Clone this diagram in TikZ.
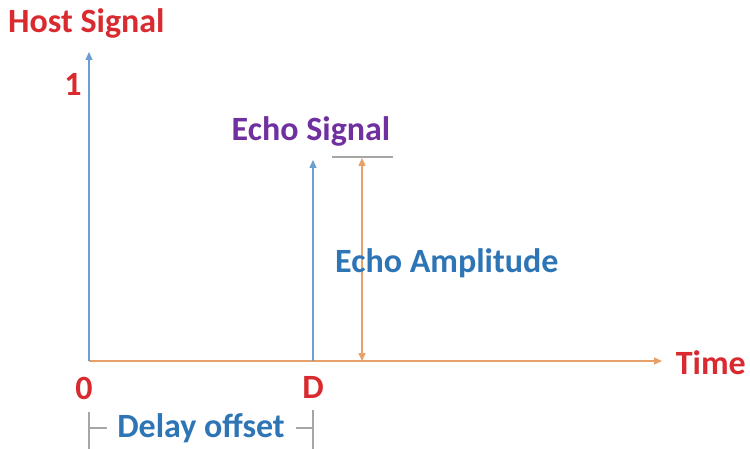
\documentclass[tikz,border=0pt]{standalone}
\usepackage{fontspec}
\setmainfont{Carlito}
\usetikzlibrary{arrows.meta}
\definecolor{cred}{HTML}{D92B2F}
\definecolor{cpurple}{HTML}{7030A0}
\definecolor{cblue}{HTML}{2E75B6}
\definecolor{axblue}{HTML}{6A9FD0}
\definecolor{corange}{HTML}{E8A06A}
\begin{document}
\begin{tikzpicture}[x=1pt,y=-1pt,
  lbl/.style={inner sep=0pt,font=\fontsize{34}{38}\selectfont\bfseries},
  tipA/.style={-{Triangle[length=8pt,width=7pt]}},
  tipB/.style={{Triangle[length=8pt,width=7pt]}-{Triangle[length=8pt,width=7pt]}},
  ln/.style={line width=1.3pt}]
\useasboundingbox (0,0) rectangle (750,449);
\fill[white] (0,0) rectangle (750,449);
% coordinates
\coordinate (O) at (89,361);
\coordinate (Ytop) at (89,52);
\coordinate (Xend) at (662,361);
\coordinate (Dbase) at (313,361);
\coordinate (Dtop) at (313,160);
\coordinate (Abot) at (362,361);
\coordinate (Atop) at (362,158);
\coordinate (Tl) at (332,157);
\coordinate (Tr) at (393,157);
% axes
\draw[ln,corange,tipA] (O) -- (Xend);
\draw[ln,axblue,tipA] (O) -- (Ytop);
\draw[ln,axblue,tipA] (Dbase) -- (Dtop);
\draw[ln,corange,tipB] (Atop) -- (Abot);
\draw[ln,gray!70] (Tl) -- (Tr);
% labels
\node[lbl,cred,anchor=west] (host) at (8,23) {Host Signal};
\node[lbl,cred] (one) at (73,84) {1};
\node[lbl,cpurple] (echo) at (311,131) {Echo Signal};
\node[lbl,cblue,anchor=west] (amp) at (335,263) {Echo Amplitude};
\node[lbl,cred,anchor=east] (time) at (746,363) {Time};
\node[lbl,cred] (zero) at (84,388) {0};
\node[lbl,cred] (dlab) at (313,387) {D};
\node[lbl,cblue] (delay) at (201,428) {Delay offset};
% bracket
\coordinate (bl1) at (89,412);
\coordinate (bl2) at (89,449);
\coordinate (bl3) at (107,428);
\coordinate (br1) at (313,410);
\coordinate (br2) at (313,449);
\coordinate (br3) at (296,428);
\draw[ln,gray!70] (bl1) -- (bl2);
\draw[ln,gray!70] (bl1 |- bl3) -- (bl3);
\draw[ln,gray!70] (br1) -- (br2);
\draw[ln,gray!70] (br1 |- br3) -- (br3);
\end{tikzpicture}
\end{document}
